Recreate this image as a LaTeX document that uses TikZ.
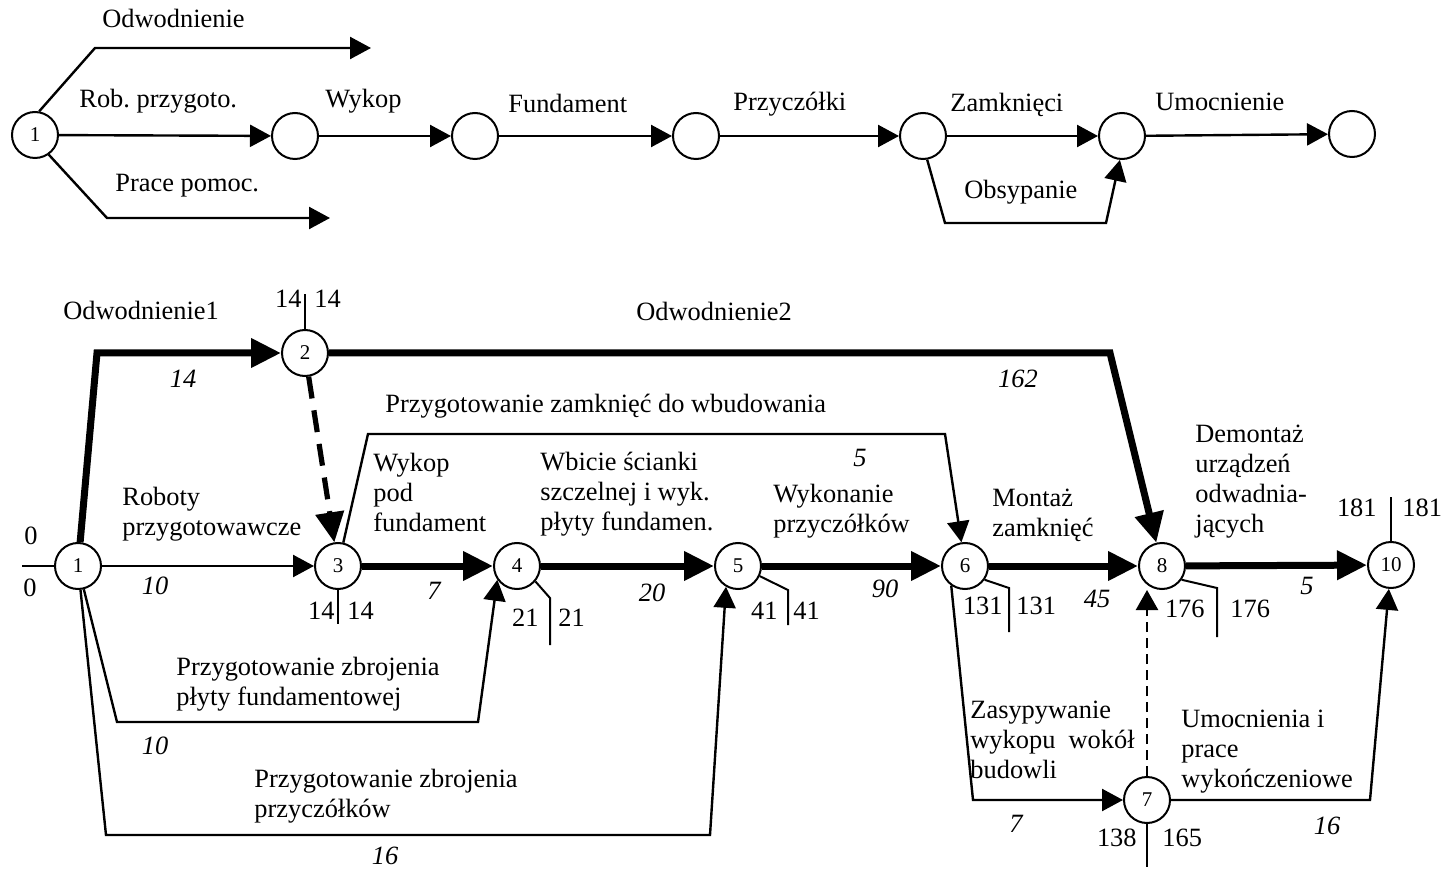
\documentclass[tikz,border=0pt]{standalone}
\usepackage{fontspec}
\setmainfont{Liberation Serif}
\usetikzlibrary{arrows.meta}

\newcommand{\lblfont}{\fontsize{13.2}{15}\selectfont}
\newcommand{\evfont}{\fontsize{10.5}{12}\selectfont}
\frenchspacing

\tikzset{
  ev/.style={circle,draw,line width=1pt,minimum size=23pt,inner sep=0pt,font=\evfont},
  act/.style={line width=1.2pt,-{Triangle[length=10.5pt,width=11pt]}},
  crit/.style={line width=3.5pt,-{Triangle[length=15pt,width=14pt]}},
  dummy/.style={line width=2.6pt,dash pattern=on 11pt off 6pt,-{Triangle[length=15pt,width=14pt]}},
  dummythin/.style={line width=1.2pt,dash pattern=on 5pt off 3pt,-{Triangle[length=10pt,width=11pt]}},
  evtick/.style={line width=1pt},
  lbl/.style={anchor=north west,inner sep=0pt,align=left,font=\lblfont},
  dur/.style={anchor=north,inner sep=0pt,font=\lblfont\itshape},
  tc/.style={anchor=north,inner sep=0pt,font=\lblfont},
  tl/.style={anchor=north east,inner sep=0pt,font=\lblfont},
  tr/.style={anchor=north west,inner sep=0pt,font=\lblfont},
}

\begin{document}
\begin{tikzpicture}[x=0.5pt,y=-0.5pt]
  \useasboundingbox (0,0) rectangle (1445,871);

  % Sequence sketch
  \draw (35,135) node[ev](t1) {1};
  \draw (295,136) node[ev](t2) {};
  \draw (475,136) node[ev](t3) {};
  \draw (696,136) node[ev](t4) {};
  \draw (923,136) node[ev](t5) {};
  \draw (1122,136) node[ev](t6) {};
  \draw (1352,134) node[ev](t7) {};
  \coordinate (odwEnd) at (371,48);
  \coordinate (pomEnd) at (330,218);
  \draw[act] (t1.80) -- (95,48) -- (odwEnd);
  \draw[act] (t1) -- (t2);
  \draw[act] (t1.-55) -- (107,218) -- (pomEnd);
  \draw[act] (t2) -- (t3);
  \draw[act] (t3) -- (t4);
  \draw[act] (t4) -- (t5);
  \draw[act] (t5) -- (t6);
  \draw[act] (t6) -- (t7);
  \draw[act] (t5.-80) -- (945,223) -- (1106,223) -- (t6.-95);
  \draw (102,9) node[lbl] {Odwodnienie};
  \draw (79,89) node[lbl] {Rob. przygoto.};
  \draw (115,174) node[lbl] {Prace pomoc.};
  \draw (325,89) node[lbl] {Wykop};
  \draw (508,94) node[lbl] {Fundament};
  \draw (733,92) node[lbl] {Przyczółki};
  \draw (950,93) node[lbl] {Zamknięci};
  \draw (1155,93) node[lbl] {Umocnienie};
  \draw (964,180) node[lbl] {Obsypanie};

  % Network with event times
  \draw (78,566) node[ev](b1) {1};
  \draw (305,353) node[ev](b2) {2};
  \draw (338,566) node[ev](b3) {3};
  \draw (517,566) node[ev](b4) {4};
  \draw (738,566) node[ev](b5) {5};
  \draw (965,566) node[ev](b6) {6};
  \draw (1147,800) node[ev](b7) {7};
  \draw (1162,566) node[ev](b8) {8};
  \draw (1391,565) node[ev](b10) {10};

  \coordinate (in) at (22,566);
  \draw[evtick] (in) -- (b1);
  \draw[crit] (b1) -- (97,353) -- (b2);
  \draw[crit] (b2) -- (1110,353) -- (b8);
  \draw[dummy] (b2) -- (b3);
  \draw[act] (b1) -- (b3);
  \draw[act] (b3) -- (368,434) -- (945,434) -- (b6);
  \draw[crit] (b3) -- (b4);
  \draw[crit] (b4) -- (b5);
  \draw[crit] (b5) -- (b6);
  \draw[crit] (b6) -- (b8);
  \draw[crit] (b8) -- (b10);
  \draw[act] (b1) -- (117,722) -- (478,722) -- (b4.215);
  \draw[act] (b1) -- (106,835) -- (710,835) -- (b5.240);
  \draw[act] (b6.235) -- (973,800) -- (b7);
  \draw[act] (b7) -- (1370,800) -- (b10);
  \draw[dummythin] (b7) -- (b7 |- b8.south);

  % event times
  \draw (31,527) node[tc] {0};
  \draw (30,579) node[tc] {0};
  \draw[evtick] (b2.north) -- ++(0,-35);
  \draw (302,290) node[tl] {14};
  \draw (314,290) node[tr] {14};
  \draw[evtick] (b3.south) -- ++(0,34);
  \draw (335,602) node[tl] {14};
  \draw (347,602) node[tr] {14};
  \draw[evtick] (b4.-40) -- (550,598) -- (550,645);
  \draw (539,609) node[tl] {21};
  \draw (558,609) node[tr] {21};
  \draw[evtick] (b5.-25) -- (788,590) -- (788,625);
  \draw (778,602) node[tl] {41};
  \draw (793,602) node[tr] {41};
  \draw[evtick] (b6.-35) -- (1009,588) -- (1009,632);
  \draw (1003,597) node[tl] {131};
  \draw (1016,597) node[tr] {131};
  \draw[evtick] (b8.-35) -- (1217,588) -- (1217,637);
  \draw (1205,600) node[tl] {176};
  \draw (1230,600) node[tr] {176};
  \draw[evtick] (b10.north) -- ++(0,-44);
  \draw (1377,499) node[tl] {181};
  \draw (1402,499) node[tr] {181};
  \draw[evtick] (b7.south) -- ++(0,43);
  \draw (1137,829) node[tl] {138};
  \draw (1162,829) node[tr] {165};

  % activity names
  \draw (63,301) node[lbl] {Odwodnienie1};
  \draw (636,302) node[lbl] {Odwodnienie2};
  \draw (385,394) node[lbl] {Przygotowanie zamknięć do wbudowania};
  \draw (122,487) node[lbl] {Roboty\\przygotowawcze};
  \draw (373,453) node[lbl] {Wykop\\pod\\fundament};
  \draw (540,452) node[lbl] {Wbicie ścianki\\szczelnej i wyk.\\płyty fundamen.};
  \draw (773,484) node[lbl] {Wykonanie\\przyczółków};
  \draw (992,489) node[lbl] {Montaż\\zamknięć};
  \draw (1195,425) node[lbl] {Demontaż\\urządzeń\\odwadnia-\\jących};
  \draw (176,657) node[lbl] {Przygotowanie zbrojenia\\płyty fundamentowej};
  \draw (254,769) node[lbl] {Przygotowanie zbrojenia\\przyczółków};
  \draw (970,701) node[lbl] {Zasypywanie\\wykopu\ \ wokół\\budowli};
  \draw (1181,710) node[lbl] {Umocnienia i\\prace\\wykończeniowe};

  % durations
  \draw (183,370) node[dur] {14};
  \draw (1018,370) node[dur] {162};
  \draw (155,577) node[dur] {10};
  \draw (434,582) node[dur] {7};
  \draw (860,449) node[dur] {5};
  \draw (652,584) node[dur] {20};
  \draw (885,580) node[dur] {90};
  \draw (1097,590) node[dur] {45};
  \draw (1307,577) node[dur] {5};
  \draw (155,737) node[dur] {10};
  \draw (385,847) node[dur] {16};
  \draw (1016,815) node[dur] {7};
  \draw (1327,817) node[dur] {16};
\end{tikzpicture}
\end{document}
